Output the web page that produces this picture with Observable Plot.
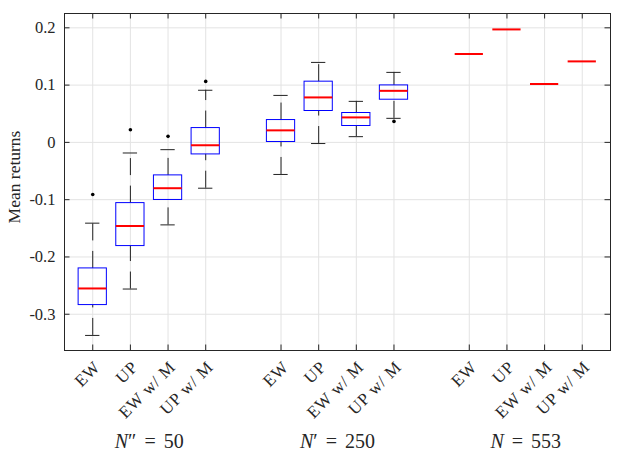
<!DOCTYPE html>
<html><head><meta charset="utf-8">
<script src="https://cdn.jsdelivr.net/npm/d3@7"></script>
<script src="https://cdn.jsdelivr.net/npm/@observablehq/plot@0.6"></script>
<style>
html,body{margin:0;padding:0;background:#fff;}
svg{display:block;}
</style>
</head><body><div id="chart"></div>
<script>
// ---- data ----
const categories = ["EW", "UP", "EW w/ M", "UP w/ M"];
const groupLabels = ["N″ = 50", "N′ = 250", "N = 553"];
const positions = [1, 2, 3, 4, 6, 7, 8, 9, 11, 12, 13, 14];
const medians = [-0.255, -0.146, -0.080, -0.005, 0.021, 0.0785, 0.0436, 0.090, 0.1543, 0.1972, 0.1019, 0.1414];
const q1 = [-0.284, -0.181, -0.1005, -0.021, 0.0007, 0.0548, 0.0286, 0.0745];
const q3 = [-0.220, -0.106, -0.0576, 0.025, 0.039, 0.106, 0.0513, 0.0995];
const whiskerLow = [-0.337, -0.256, -0.144, -0.080, -0.056, -0.002, 0.010, 0.042];
const whiskerHigh = [-0.141, -0.0185, -0.0127, 0.091, 0.082, 0.1396, 0.0716, 0.1222];
const outlierPos = [1, 2, 3, 4, 9];
const outlierVal = [-0.091, 0.022, 0.0105, 0.1065, 0.0366];
const yTicks = [-0.3, -0.2, -0.1, 0, 0.1, 0.2];
const yTickLabels = ["-0.3", "-0.2", "-0.1", "0", "0.1", "0.2"];
const yDomain = [-0.3633, 0.225];
const xDomain = [0.25, 14.75];

// ---- layout / style ----
const W = 624, H = 452;
const mL = 64, mR = 14, mT = 13, mB = 102;
const frameW = W - mL - mR, frameH = H - mT - mB;
const tickLen = 5.5;
const boxHalf = 0.375, capHalf = 0.19;
const gridColor = "#e3e3e3", axisColor = "#262626";
const font = "Liberation Serif";

const boxes = q1.map((v, i) => ({pos: positions[i], q1: v, q3: q3[i], lo: whiskerLow[i], hi: whiskerHigh[i]}));
const meds = positions.map((p, i) => ({pos: p, med: medians[i]}));
const outliers = outlierPos.map((p, i) => ({pos: p, v: outlierVal[i]}));
const tickLabels = positions.map((p, i) => ({pos: p, label: categories[i % categories.length]}));
const groupData = groupLabels.map((g, k) => {
  const ps = positions.slice(k * 4, k * 4 + 4);
  return {pos: d3.mean(ps), label: g};
});

const chart = Plot.plot({
  width: W, height: H,
  marginLeft: mL, marginRight: mR, marginTop: mT, marginBottom: mB,
  style: {fontFamily: font, color: axisColor, background: "#fff"},
  x: {domain: xDomain, axis: null},
  y: {domain: yDomain, axis: null},
  marks: [
    Plot.ruleY(yTicks, {y: d => d, stroke: gridColor, strokeWidth: 1}),
    Plot.ruleX(positions, {x: d => d, stroke: gridColor, strokeWidth: 1}),
    Plot.ruleX(boxes, {x: "pos", y1: "q3", y2: "hi", stroke: "#222", strokeWidth: 1, strokeDasharray: "17,10.5"}),
    Plot.ruleX(boxes, {x: "pos", y1: "lo", y2: "q1", stroke: "#222", strokeWidth: 1, strokeDasharray: "17,10.5"}),
    Plot.ruleY(boxes, {y: "hi", x1: d => d.pos - capHalf, x2: d => d.pos + capHalf, stroke: "#222", strokeWidth: 1}),
    Plot.ruleY(boxes, {y: "lo", x1: d => d.pos - capHalf, x2: d => d.pos + capHalf, stroke: "#222", strokeWidth: 1}),
    Plot.rect(boxes, {x1: d => d.pos - boxHalf, x2: d => d.pos + boxHalf, y1: "q1", y2: "q3", fill: "none", stroke: "#0000ff", strokeWidth: 1}),
    Plot.ruleY(meds, {y: "med", x1: d => d.pos - boxHalf, x2: d => d.pos + boxHalf, stroke: "#ff0000", strokeWidth: 2}),
    Plot.dot(outliers, {x: "pos", y: "v", r: 1.8, fill: "#000", stroke: "none"}),
    Plot.ruleY(yTicks, {y: d => d, insetRight: frameW - tickLen, stroke: axisColor}),
    Plot.ruleY(yTicks, {y: d => d, insetLeft: frameW - tickLen, stroke: axisColor}),
    Plot.ruleX(positions, {x: d => d, insetTop: frameH - tickLen, stroke: axisColor}),
    Plot.ruleX(positions, {x: d => d, insetBottom: frameH - tickLen, stroke: axisColor}),
    Plot.axisY(yTicks, {tickSize: 0, tickPadding: 9, tickFormat: d => yTickLabels[yTicks.indexOf(d)], fontSize: 16.5, fontFamily: font, fill: axisColor}),
    Plot.text(["Mean returns"], {frameAnchor: "left", textAnchor: "middle", lineAnchor: "middle", dx: -50, dy: -5, rotate: -90, fontSize: 17.5, fontFamily: font, fill: axisColor}),
    Plot.text(tickLabels, {x: "pos", text: "label", frameAnchor: "bottom", dy: 9, rotate: -45, textAnchor: "end", lineAnchor: "top", fontSize: 17, fontFamily: font, fill: axisColor}),
    Plot.text(groupData, {x: "pos", text: "label", frameAnchor: "bottom", textAnchor: "middle", dy: 97, lineAnchor: "bottom", fontSize: 20, fontFamily: font, fill: axisColor}),
    Plot.frame({stroke: axisColor, strokeWidth: 1})
  ]
});

d3.select(chart).selectAll("text").each(function() {
  const t = this.textContent;
  if (groupLabels.includes(t) && this.childElementCount === 0) {
    const sel = d3.select(this);
    sel.text(null).style("word-spacing", "3px");
    sel.append("tspan").attr("font-style", "italic").text(t.slice(0, 1));
    sel.append("tspan").text(t.slice(1));
  }
  if (categories.includes(t)) d3.select(this).style("letter-spacing", "0.8px");
});

document.getElementById("chart").appendChild(chart);
</script>
</body></html>
